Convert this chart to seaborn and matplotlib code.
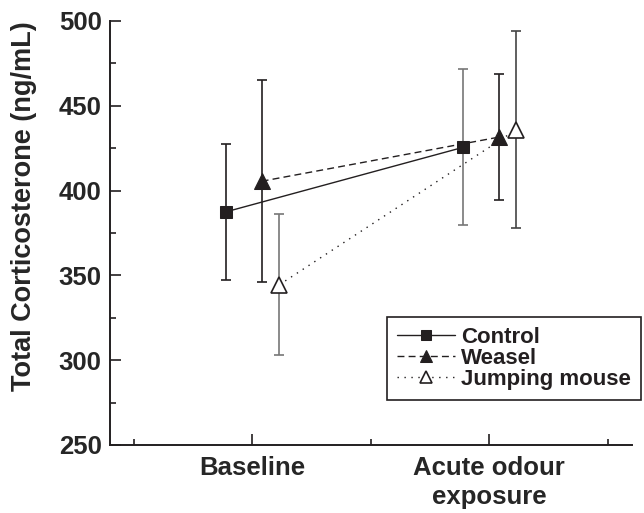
import numpy as np
import matplotlib
matplotlib.use('Agg')
import matplotlib.pyplot as plt
from matplotlib.ticker import MultipleLocator, FixedLocator
import seaborn as sns
import pandas as pd

# values (mean +/- error), per group, per phase
phases = ['Baseline', 'Acute odour\nexposure']
groups = ['Control', 'Weasel', 'Jumping mouse']
control_mean = [387.5, 425.5]
control_err = [40.0, 46.0]
weasel_mean = [405.5, 431.5]
weasel_err = [59.5, 37.0]
jumping_mean = [344.5, 436.0]
jumping_err = [41.5, 58.0]

df = pd.DataFrame({
    'group': np.repeat(groups, len(phases)),
    'phase': phases * len(groups),
    'phase_idx': list(range(len(phases))) * len(groups),
    'mean': control_mean + weasel_mean + jumping_mean,
    'err': control_err + weasel_err + jumping_err,
})

# style per group: horizontal offset, line style, marker
offsets = {'Control': -0.11, 'Weasel': 0.04, 'Jumping mouse': 0.115}
styles = {
    'Control': dict(linestyle='-', marker='s', markersize=9,
                    markerfacecolor='#231f20', markeredgecolor='#231f20'),
    'Weasel': dict(linestyle=(0, (5, 3)), marker='^', markersize=11,
                   markerfacecolor='#231f20', markeredgecolor='#231f20'),
    'Jumping mouse': dict(linestyle=(0, (1, 4)), marker='^', markersize=11,
                          markerfacecolor='white', markeredgecolor='#231f20',
                          markeredgewidth=1.2),
}
bar_colors = {'Control': ['#231f20', '#777777'],
              'Weasel': ['#231f20', '#231f20'],
              'Jumping mouse': ['#777777', '#444444']}

sns.set_style('ticks')
plt.rcParams['font.family'] = ['Liberation Sans', 'DejaVu Sans']
plt.rcParams['font.weight'] = 'bold'

fig = plt.figure(figsize=(6.44, 5.13), dpi=100)
ax = fig.add_axes([110 / 644, 1 - 445 / 513, 522 / 644, 424 / 513])

for g in groups:
    sub = df[df['group'] == g].copy()
    sub['x'] = sub['phase_idx'] + offsets[g]
    for (_, row), c in zip(sub.iterrows(), bar_colors[g]):
        ax.errorbar(row['x'], row['mean'], yerr=row['err'], fmt='none',
                    ecolor=c, elinewidth=1.2, capsize=3.3, capthick=1.2, zorder=2)
    sns.lineplot(data=sub, x='x', y='mean', ax=ax, color='#231f20',
                 linewidth=1.0, label=g, zorder=3, **styles[g])

ax.set_xlim(-0.6, 1.603)
ax.set_ylim(250, 500)
ax.set_xticks(range(len(phases)))
ax.set_xticklabels(phases, fontsize=18.5, fontweight='bold', linespacing=1.25)
ax.xaxis.set_minor_locator(FixedLocator([-0.5, 0.5, 1.5]))
ax.yaxis.set_major_locator(MultipleLocator(50))
ax.yaxis.set_minor_locator(MultipleLocator(25))
for lab in ax.get_yticklabels():
    lab.set_fontsize(18.5)
    lab.set_fontweight('bold')
ax.tick_params(which='both', direction='in', color='#231f20', width=1.2)
ax.tick_params(which='major', length=8)
ax.tick_params(which='minor', length=4)
ax.tick_params(axis='y', which='major', pad=6)
ax.tick_params(axis='x', which='major', pad=8)
ax.set_xlabel('')
ax.set_ylabel('Total Corticosterone (ng/mL)', fontsize=19.5, fontweight='bold')
ax.yaxis.set_label_coords(-0.14, 0.563)
sns.despine(ax=ax)
for s in ['left', 'bottom']:
    ax.spines[s].set_linewidth(1.4)
    ax.spines[s].set_color('#231f20')

leg = ax.legend(loc='upper left', bbox_to_anchor=(387 / 644, 1 - 317 / 513),
                bbox_transform=fig.transFigure, frameon=True, fancybox=False,
                prop={'size': 16, 'weight': 'bold'}, handlelength=2.6,
                handletextpad=0.3, labelspacing=0.0, borderpad=0.45,
                markerscale=0.75, borderaxespad=0)
leg.get_frame().set_edgecolor('#231f20')
leg.get_frame().set_linewidth(1.2)
leg.get_frame().set_alpha(1)
for t in leg.get_texts():
    t.set_color('#231f20')

fig.savefig('out.png', dpi=100)
